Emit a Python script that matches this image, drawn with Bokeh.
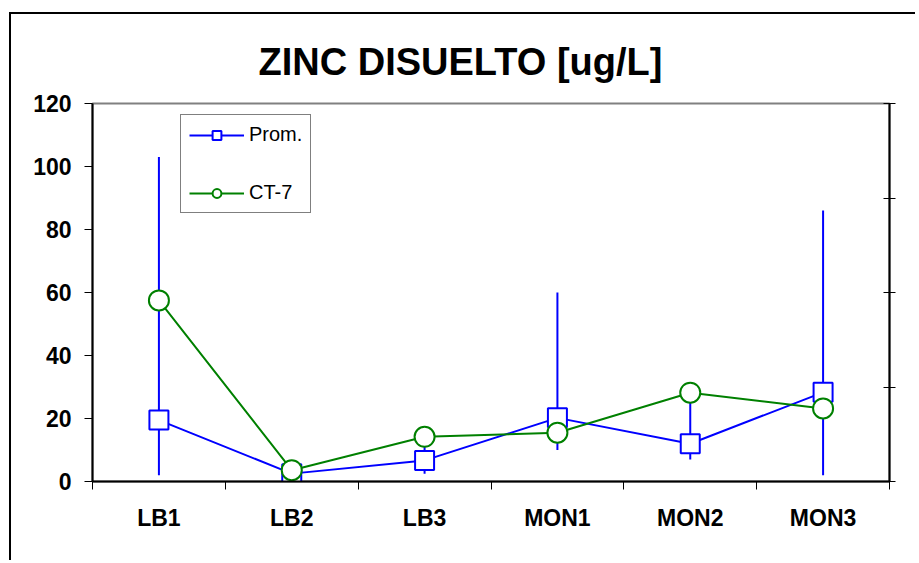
from bokeh.plotting import figure
from bokeh.models import (LinearAxis, FixedTicker, Range1d, Legend, LegendItem,
                          ColumnDataSource)
from bokeh.embed import file_html
from bokeh.resources import INLINE

categories = ["LB1", "LB2", "LB3", "MON1", "MON2", "MON3"]
prom = [19.5, 2.5, 6.7, 20.2, 12.0, 28.3]
prom_low = [2.0, 1.5, 2.5, 10.0, 7.0, 2.0]
prom_high = [103.0, 4.0, 12.0, 60.0, 26.0, 86.0]
ct7 = [57.5, 3.6, 14.2, 15.5, 28.2, 23.2]
y_ticks = [0, 20, 40, 60, 80, 100, 120]
right_ticks = [0, 30, 60, 90, 120]

xs = [i + 0.5 for i in range(len(categories))]
src = ColumnDataSource(dict(x=xs, prom=prom, lo=prom_low, hi=prom_high, ct7=ct7))

FONT = "Liberation Sans"
BLUE = "#0000FF"
GREEN = "#008000"

p = figure(width=906, height=548, output_backend="svg", toolbar_location=None,
           x_range=Range1d(0, len(categories)), y_range=Range1d(0, 120),
           min_border_left=81, min_border_right=28, min_border_top=89,
           min_border_bottom=81, x_axis_type=None, y_axis_type=None,
           title="ZINC DISUELTO [ug/L]")
p.styles = {"border-left": "2px solid black", "border-top": "2px solid black",
            "margin-left": "9px", "margin-top": "12px"}
p.background_fill_color = "white"
p.border_fill_color = "white"
p.outline_line_color = "#808080"
p.outline_line_width = 2

p.title.text_font = FONT
p.title.text_font_style = "bold"
p.title.text_font_size = "38px"
p.title.text_color = "black"
p.title.align = "left"
p.title.offset = 166
p.title.vertical_align = "bottom"
p.title.standoff = 42

# axes
xaxis = LinearAxis(ticker=FixedTicker(ticks=xs, minor_ticks=list(range(len(categories) + 1))),
                   major_label_overrides={x: c for x, c in zip(xs, categories)})
xaxis.major_tick_out = 0
xaxis.major_tick_in = 0
xaxis.minor_tick_out = 8
xaxis.minor_tick_in = 0
xaxis.minor_tick_line_color = "black"
xaxis.axis_line_color = "black"
xaxis.axis_line_width = 2
xaxis.major_label_text_font = FONT
xaxis.major_label_text_font_style = "bold"
xaxis.major_label_text_font_size = "23px"
xaxis.major_label_text_color = "black"
xaxis.major_label_standoff = 15
p.add_layout(xaxis, "below")

yaxis = LinearAxis(ticker=FixedTicker(ticks=y_ticks, minor_ticks=[]))
yaxis.major_tick_out = 8
yaxis.major_tick_in = 0
yaxis.axis_line_width = 2
yaxis.major_label_text_font = FONT
yaxis.major_label_text_font_style = "bold"
yaxis.major_label_text_font_size = "23px"
yaxis.major_label_text_color = "black"
yaxis.major_label_standoff = 13
p.add_layout(yaxis, "left")

raxis = LinearAxis(ticker=FixedTicker(ticks=right_ticks, minor_ticks=[]),
                   major_label_overrides={t: "" for t in right_ticks})
raxis.major_tick_out = 6
raxis.major_tick_in = 6
raxis.axis_line_width = 2
raxis.major_label_text_font_size = "1px"
p.add_layout(raxis, "right")

p.ygrid.ticker = FixedTicker(ticks=y_ticks[1:-1])
p.ygrid.grid_line_color = "#cccccc"
p.ygrid.grid_line_width = 1
p.xgrid.visible = False

# error bars, lines, markers
p.segment(x0="x", y0="lo", x1="x", y1="hi", source=src, line_color=BLUE, line_width=2)
l1 = p.line("x", "prom", source=src, line_color=BLUE, line_width=2)
s1 = p.scatter("x", "prom", source=src, marker="square", size=19, fill_color="white",
               line_color=BLUE, line_width=2)
l2 = p.line("x", "ct7", source=src, line_color=GREEN, line_width=2)
s2 = p.scatter("x", "ct7", source=src, marker="circle", size=20, fill_color="white",
               line_color=GREEN, line_width=2)

legend = Legend(items=[LegendItem(label="Prom.", renderers=[l1, s1]),
                       LegendItem(label="CT-7", renderers=[l2, s2])],
                location=(88, 268))
legend.label_text_font = FONT
legend.label_text_font_size = "20px"
legend.label_text_color = "black"
legend.glyph_width = 55
legend.glyph_height = 22
legend.label_height = 22
legend.label_standoff = 5
legend.spacing = 35
legend.padding = 8
legend.margin = 0
legend.border_line_color = "black"
legend.border_line_width = 1
legend.background_fill_color = "white"
legend.background_fill_alpha = 1
p.add_layout(legend, "center")

open("out.html", "w").write(file_html(p, INLINE))
